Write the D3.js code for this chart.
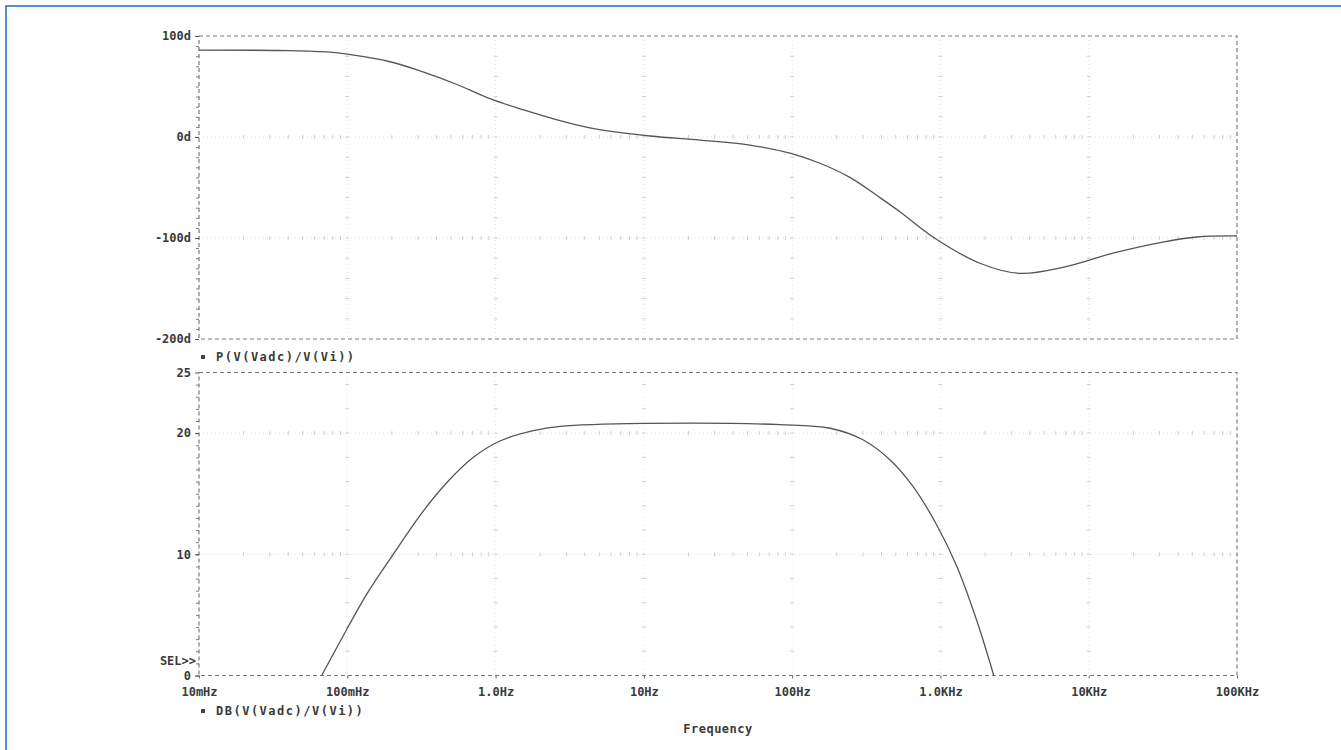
<!DOCTYPE html>
<html>
<head>
<meta charset="utf-8">
<script src="https://cdn.jsdelivr.net/npm/d3@7"></script>
<style>
  body { margin: 0; background: #fff; }
  text { font-family: "DejaVu Sans Mono", "Liberation Mono", monospace; font-weight: bold; fill: #3a3a3a; }
</style>
</head>
<body>
<div id="chart"></div>
<script>
// Frequency axis (Hz)
const decades = [0.01, 0.1, 1, 10, 100, 1000, 10000, 100000];
const decadeLabels = ["10mHz", "100mHz", "1.0Hz", "10Hz", "100Hz", "1.0KHz", "10KHz", "100KHz"];

// Phase plot: P(V(Vadc)/V(Vi)) in degrees
const phaseTicks = [-200, -100, 0, 100];
const phaseFreq = [0.01, 0.0411, 0.0764, 0.1, 0.194, 0.324, 0.55, 0.916, 1.53, 2.6, 4.33, 11, 23.9, 51.9, 96.6, 154, 245, 391, 533, 890, 1846, 3436, 6700, 14560, 31600, 53700, 100000];
const phaseDeg  = [86, 85.5, 84, 82, 74.5, 64.5, 52, 38, 27, 17, 9, 1, -3, -8, -16, -26, -40, -60, -74, -99, -125, -135, -129, -115, -104, -99, -98];

// Magnitude plot: DB(V(Vadc)/V(Vi))
const dbTicks = [0, 10, 20, 25];
const dbFreq = [0.0672, 0.0991, 0.135, 0.204, 0.309, 0.468, 0.708, 1.07, 1.8, 2.72, 10, 82.7, 180, 300, 456, 653, 946, 1291, 1762, 2290];
const dbVal  = [0, 3.8, 6.7, 10.0, 13.2, 15.9, 18.0, 19.35, 20.2, 20.55, 20.8, 20.7, 20.4, 19.45, 17.8, 15.6, 12.4, 9.0, 4.5, 0];

const width = 1341, height = 750;
const left = 199, right = 1237;

const svg = d3.select("#chart").append("svg")
    .attr("width", width)
    .attr("height", height);

// blue page frame
svg.append("path")
    .attr("d", `M6,${height} L6,6 L${width},6`)
    .attr("fill", "none")
    .attr("stroke", "#1d6cc0")
    .attr("stroke-width", 1.5);

const x = d3.scaleLog().domain([0.01, 100000]).range([left, right]);
const yPhase = d3.scaleLinear().domain([-200, 100]).range([339, 36]);
const yDb = d3.scaleLinear().domain([0, 25]).range([675.5, 372.5]);

// minor log positions
const minorFreq = [];
decades.slice(0, -1).forEach(d => {
    for (let k = 2; k <= 9; k++) minorFreq.push(d * k);
});

function drawPanel(y, majorGrid, vStep, minorStep, ticks, fmt) {
    const [y0, y1] = y.range();
    const g = svg.append("g");

    // faint grid
    decades.slice(1, -1).forEach(f => {
        g.append("line")
            .attr("x1", x(f)).attr("x2", x(f))
            .attr("y1", y1).attr("y2", y0)
            .attr("stroke", "#e2e2e2")
            .attr("stroke-dasharray", "1,3");
        d3.range(y.domain()[0] + vStep, y.domain()[1], vStep).forEach(v => {
            g.append("line")
                .attr("x1", x(f) - 2).attr("x2", x(f) + 2)
                .attr("y1", y(v)).attr("y2", y(v))
                .attr("stroke", "#cfcfcf");
        });
    });
    majorGrid.forEach(v => {
        g.append("line")
            .attr("x1", left).attr("x2", right)
            .attr("y1", y(v)).attr("y2", y(v))
            .attr("stroke", "#e2e2e2")
            .attr("stroke-dasharray", "1,3");
        minorFreq.forEach(f => {
            g.append("line")
                .attr("x1", x(f)).attr("x2", x(f))
                .attr("y1", y(v) - 2).attr("y2", y(v) + 2)
                .attr("stroke", "#cfcfcf");
        });
    });

    // dashed box
    g.append("rect")
        .attr("x", left).attr("y", y1)
        .attr("width", right - left).attr("height", y0 - y1)
        .attr("fill", "none")
        .attr("stroke", "#7a7a7a")
        .attr("stroke-width", 1.2)
        .attr("stroke-dasharray", "4,3");

    // left axis with minor ticks
    const minor = g.append("g")
        .attr("transform", `translate(${left},0)`)
        .call(d3.axisLeft(y).tickValues(d3.range(y.domain()[0], y.domain()[1], minorStep)).tickSize(3).tickFormat(""));
    minor.select(".domain").remove();
    minor.selectAll("line").attr("stroke", "#7a7a7a");

    const axis = g.append("g")
        .attr("transform", `translate(${left},0)`)
        .call(d3.axisLeft(y).tickValues(ticks).tickSize(4).tickPadding(4).tickFormat(fmt));
    axis.select(".domain").remove();
    axis.selectAll("line").attr("stroke", "#555");
    axis.selectAll("text")
        .style("font-size", "12px")
        .style("font-family", "DejaVu Sans Mono")
        .style("font-weight", "bold")
        .attr("fill", "#3a3a3a");
    return g;
}

drawPanel(yPhase, [0, -100], 20, 10, phaseTicks, d => d + "d");
drawPanel(yDb, [10, 20], 2, 1, dbTicks, d => d);

// frequency axis
const xAxis = svg.append("g")
    .attr("transform", `translate(0,${yDb(0)})`)
    .call(d3.axisBottom(x).tickValues(decades).tickSize(3).tickPadding(9)
        .tickFormat((d, i) => decadeLabels[i]));
xAxis.select(".domain").remove();
xAxis.selectAll("line").attr("stroke", "#666");
xAxis.selectAll("text")
    .style("font-size", "12px")
    .style("font-family", "DejaVu Sans Mono")
    .style("font-weight", "bold")
    .attr("fill", "#3a3a3a");

// traces
const phaseLine = d3.line()
    .x(d => x(d[0]))
    .y(d => yPhase(d[1]))
    .curve(d3.curveCatmullRom.alpha(0.5));
svg.append("path")
    .datum(phaseFreq.map((f, i) => [f, phaseDeg[i]]))
    .attr("d", phaseLine)
    .attr("fill", "none")
    .attr("stroke", "#555")
    .attr("stroke-width", 1.3);

const dbLine = d3.line()
    .x(d => x(d[0]))
    .y(d => yDb(d[1]))
    .curve(d3.curveCatmullRom.alpha(0.5));
svg.append("path")
    .datum(dbFreq.map((f, i) => [f, dbVal[i]]))
    .attr("d", dbLine)
    .attr("fill", "none")
    .attr("stroke", "#555")
    .attr("stroke-width", 1.3);

// legends and labels
function legend(yPos, label) {
    svg.append("rect")
        .attr("x", 201).attr("y", yPos - 6)
        .attr("width", 4).attr("height", 4)
        .attr("fill", "#444");
    svg.append("text")
        .attr("x", 216).attr("y", yPos)
        .style("font-size", "12px")
        .style("letter-spacing", "1.5px")
        .text(label);
}
legend(361, "P(V(Vadc)/V(Vi))");
legend(715, "DB(V(Vadc)/V(Vi))");

svg.append("text")
    .attr("x", 196).attr("y", 665)
    .attr("text-anchor", "end")
    .style("font-size", "12px")
    .text("SEL>>");

svg.append("text")
    .attr("x", 718).attr("y", 733)
    .attr("text-anchor", "middle")
    .style("font-size", "12px")
    .style("letter-spacing", "0.5px")
    .text("Frequency");
</script>
</body>
</html>
